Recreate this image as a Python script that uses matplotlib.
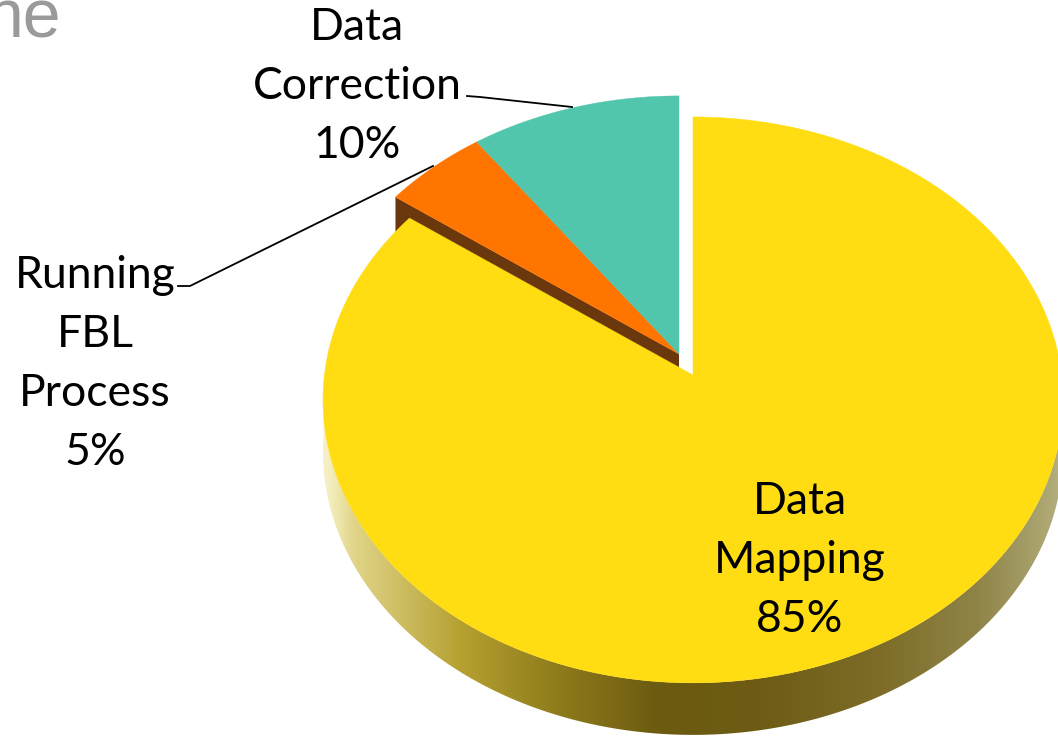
import numpy as np
import matplotlib
matplotlib.use('Agg')
import matplotlib.pyplot as plt
from matplotlib.colors import LinearSegmentedColormap
from matplotlib.patches import Polygon

# значения секторов
names = ['Data Mapping', 'Running FBL Process', 'Data Correction']
shares = [85, 5, 10]
label_lines = [['Data', 'Mapping'], ['Running', 'FBL', 'Process'], ['Data', 'Correction']]

colors = ['#FFDD12', '#FF7500', '#52C5AD']
cut_color = '#6B370D'

W, H = 1058, 736
cx, cy = 693, 375          # центр большого сектора
rx, ry = 368.6, 280.8      # радиусы эллипса
k = 0.088                  # перспектива
thick = 52                 # высота боковой стенки
shift_small = (-14, -21)   # смещение маленьких секторов


def project(angle, r=1.0, dx=0, dy=0):
    # угол считается по часовой стрелке от верхней точки
    u = r * np.sin(angle)
    v = r * np.cos(angle)
    w = 1 + k * v
    return cx + dx + rx * u / w, cy + dy - ry * v / w


fig = plt.figure(figsize=(W / 100, H / 100), dpi=100)
ax = fig.add_axes([0, 0, 1, 1])
ax.set_xlim(0, W)
ax.set_ylim(H, 0)
ax.axis('off')

# углы секторов: большой идет от верха по часовой стрелке
edges = np.cumsum([0] + shares) / sum(shares) * 2 * np.pi


def arc(a0, a1, dx=0, dy=0):
    t = np.linspace(a0, a1, 200)
    x, y = project(t, dx=dx, dy=dy)
    return np.column_stack([x, y])


# боковая стенка с градиентом
t0 = np.deg2rad(92)
t1 = np.deg2rad(268)
top_edge = arc(t0, t1)
low_edge = arc(t0, t1, dy=thick)
side = np.vstack([top_edge, low_edge[::-1]])
grad_x = [323, 335, 353, 461, 555, 660, 760, 885, 979, 1045, 1063]
grad_c = ['#F6F0C8', '#F0E8B0', '#E0D488', '#B5A030', '#8F7C1C', '#6B5A10',
          '#6E5C14', '#7D6D28', '#8F8448', '#ABA570', '#B5B080']
pos = [(v - grad_x[0]) / (grad_x[-1] - grad_x[0]) for v in grad_x]
cmap = LinearSegmentedColormap.from_list('side', list(zip(pos, grad_c)))
img = ax.imshow(np.linspace(0, 1, 512)[None, :], cmap=cmap, aspect='auto',
                extent=(grad_x[0], grad_x[-1], H, 0), zorder=1)
clip = Polygon(side, transform=ax.transData)
img.set_clip_path(clip)
ax.set_xlim(0, W)
ax.set_ylim(H, 0)

# маленькие секторы со срезом
dx, dy = shift_small
apex = project(0, r=0, dx=dx, dy=dy)
for i in [1, 2]:
    outer = arc(edges[i], edges[i + 1], dx, dy)
    ax.add_patch(Polygon(np.vstack([apex, outer]), closed=True, fc=colors[i], ec=colors[i], lw=0.3, zorder=3))
    if i == 1:
        p = outer[0]
        cut = [apex, p, (p[0], p[1] + thick), (apex[0], apex[1] + thick)]
        ax.add_patch(Polygon(cut, closed=True, fc=cut_color, ec='none', zorder=2))

# большой сектор
outer = arc(edges[0], edges[1])
ax.add_patch(Polygon(np.vstack([project(0, r=0), outer]), closed=True, fc=colors[0], ec=colors[0], lw=0.3, zorder=4))

# линии выносок
ax.plot([467, 480, 572], [96, 97, 107], color='black', lw=1.3, zorder=5)
ax.plot([178, 190, 433], [286, 286, 166], color='black', lw=1.3, zorder=5)

# подписи: x центра и базовая линия первой строки
label_x = [800, 95, 357]
label_y = [514, 288, 40]
step = 59
font = 'Lato'
for i in range(3):
    lines = label_lines[i] + [f'{shares[i]}%']
    for j, line in enumerate(lines):
        ax.text(label_x[i], label_y[i] + j * step, line, ha='center', va='baseline',
                fontsize=32, family=font, color='black', zorder=6)

# обрезанный заголовок
ax.text(61, 38, 'ne', ha='right', va='baseline', fontsize=49, family='Liberation Sans', color='#9A9A9A')

fig.savefig('out.png', dpi=100)
